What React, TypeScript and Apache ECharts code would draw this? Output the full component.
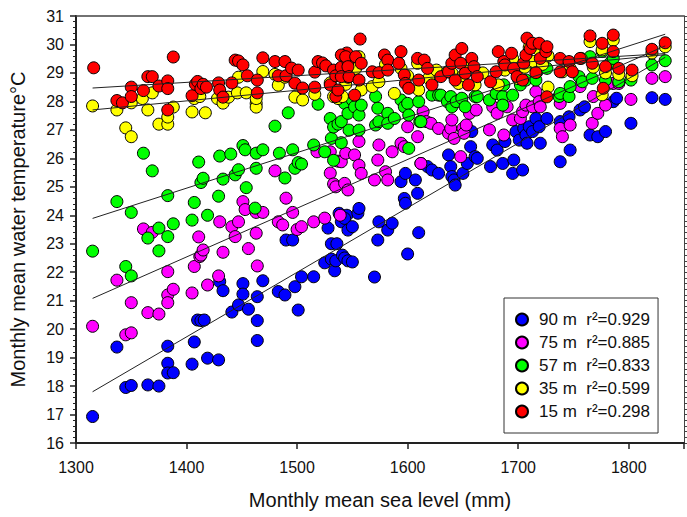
import React, { useEffect, useRef } from "react";
import * as echarts from "echarts";

const seriesNames = ["90 m  r²=0.929", "75 m  r²=0.885", "57 m  r²=0.833", "35 m  r²=0.599", "15 m  r²=0.298"];
const seriesColors = ["#0000ff", "#ff00ff", "#00ff00", "#ffff00", "#ff0000"];

const xTicks = [1300, 1400, 1500, 1600, 1700, 1800];
const yTicks = [16, 17, 18, 19, 20, 21, 22, 23, 24, 25, 26, 27, 28, 29, 30, 31];

const blue90: [number, number][] = [
  [1315, 16.93], [1337, 19.37], [1345, 17.95], [1350, 18.02], [1365, 18.04], [1375, 18.0], [1383, 19.4], [1383, 18.8],
  [1383, 18.46], [1388, 18.47], [1405, 18.77], [1407, 19.55], [1410, 20.32], [1413, 20.3], [1416, 20.32], [1419, 18.98],
  [1429, 18.92], [1430, 21.67], [1433, 21.35], [1441, 20.6], [1447, 20.85], [1451, 21.6], [1451, 21.23], [1456, 20.7],
  [1464, 21.14], [1464, 20.3], [1464, 19.6], [1469, 21.7], [1483, 21.32], [1489, 21.2], [1490, 23.13], [1496, 23.13],
  [1498, 21.49], [1501, 20.67], [1504, 21.84], [1515, 21.84], [1525, 22.33], [1528, 23.55], [1531, 22.46], [1531, 23.0],
  [1534, 22.05], [1535, 22.4], [1536, 23.0], [1540, 23.77], [1541, 22.6], [1543, 22.5], [1545, 24.0], [1546, 22.4],
  [1550, 22.36], [1570, 21.83], [1600, 22.64], [1610, 23.39],
  [1538, 24.07], [1543, 23.89], [1546, 23.48], [1550, 23.6], [1555, 24.07], [1556, 24.24], [1573, 23.13], [1574, 23.77],
  [1582, 23.48], [1586, 23.72], [1594, 25.18], [1598, 25.47], [1607, 25.24], [1597, 24.59], [1598, 24.42], [1609, 24.77],
  [1612, 25.82], [1618, 25.71], [1622, 25.59], [1628, 25.47], [1637, 26.12], [1639, 25.71], [1640, 25.36], [1642, 25.24],
  [1643, 25.06], [1650, 25.47], [1654, 25.82], [1657, 26.41], [1658, 26.94], [1661, 26.06], [1663, 26.0], [1675, 25.71],
  [1677, 26.47], [1681, 26.29], [1686, 25.82], [1688, 26.59], [1695, 25.47], [1696, 25.94], [1698, 26.94], [1701, 26.64],
  [1704, 25.59], [1705, 27.05], [1707, 26.82], [1708, 26.53], [1710, 27.11], [1713, 26.94], [1716, 27.4], [1719, 27.11],
  [1720, 26.53], [1726, 27.4], [1738, 25.88], [1738, 27.29], [1746, 27.46], [1747, 26.29], [1756, 27.7], [1760, 27.81],
  [1765, 26.82], [1772, 26.76], [1779, 26.94], [1786, 27.99], [1789, 28.11], [1802, 27.23], [1821, 28.13], [1833, 28.07],
];

const magenta75: [number, number][] = [
  [1315, 20.1], [1337, 21.72], [1345, 19.8], [1350, 19.87], [1350, 20.93], [1361, 23.52], [1365, 20.58], [1369, 23.4],
  [1375, 20.53], [1383, 22.02], [1383, 21.2], [1383, 20.93], [1388, 21.4], [1405, 21.27], [1407, 22.2], [1411, 23.24],
  [1412, 22.55], [1413, 22.6], [1415, 22.78], [1419, 21.55], [1429, 21.87], [1430, 23.77], [1433, 22.7], [1441, 23.6],
  [1444, 23.25], [1447, 23.77], [1451, 24.48], [1453, 24.2], [1456, 22.83], [1463, 23.37], [1463, 24.1], [1464, 22.22],
  [1469, 24.1], [1480, 25.56], [1483, 23.77], [1487, 23.66], [1490, 24.6], [1496, 24.1], [1500, 23.5], [1504, 23.6],
  [1515, 23.77], [1518, 26.23], [1525, 23.9], [1530, 26.23], [1530, 25.48], [1533, 25.1], [1535, 25.0], [1537, 25.9],
  [1539, 24.0],
  [1540, 25.88], [1544, 26.18], [1552, 26.12], [1556, 26.59], [1556, 25.76], [1558, 25.47], [1543, 25.12], [1546, 24.89],
  [1570, 25.24], [1574, 26.47], [1573, 25.94], [1580, 25.53], [1582, 25.24], [1586, 26.23], [1594, 26.53], [1597, 26.41],
  [1600, 27.11], [1609, 26.76], [1612, 25.82], [1614, 27.64], [1617, 27.29], [1621, 27.23], [1628, 27.05], [1637, 26.88],
  [1639, 27.05], [1640, 27.35], [1642, 26.7], [1648, 26.06], [1650, 27.05], [1651, 26.88], [1653, 27.17], [1656, 27.58],
  [1662, 27.7], [1674, 27.0], [1677, 27.81], [1681, 27.58], [1687, 26.82], [1690, 27.81], [1695, 27.35], [1702, 27.4],
  [1704, 27.64], [1707, 27.87], [1713, 27.81], [1716, 28.34], [1719, 27.99], [1720, 27.81], [1738, 27.93], [1738, 27.05],
  [1740, 26.76], [1747, 27.17], [1756, 28.52], [1767, 27.23], [1768, 28.17], [1772, 27.58], [1779, 27.87], [1786, 28.63],
  [1791, 28.63], [1802, 28.07], [1821, 28.81], [1833, 28.87],
];

const green57: [number, number][] = [
  [1315, 22.74], [1337, 24.48], [1345, 22.2], [1350, 21.87], [1350, 24.1], [1361, 26.18], [1365, 23.2], [1369, 25.56],
  [1375, 23.55], [1375, 22.75], [1383, 24.69], [1383, 23.25], [1388, 23.7], [1405, 23.83], [1407, 24.45], [1411, 25.87],
  [1413, 25.15], [1415, 25.3], [1419, 24.0], [1429, 24.67], [1430, 26.08], [1433, 25.27], [1440, 26.15], [1444, 25.42],
  [1447, 25.6], [1451, 26.45], [1453, 26.3], [1454, 24.97], [1462, 24.25], [1463, 26.18], [1463, 25.65], [1469, 26.3],
  [1480, 27.13], [1484, 26.18], [1489, 25.31], [1492, 27.6], [1496, 26.3], [1498, 25.65], [1501, 25.85], [1504, 25.8],
  [1515, 26.47], [1519, 27.9], [1525, 26.23], [1530, 27.4], [1531, 26.7], [1533, 27.1], [1533, 25.93], [1537, 27.2],
  [1540, 26.55],
  [1540, 27.29], [1543, 27.93], [1546, 27.58], [1547, 26.99], [1550, 28.05], [1552, 27.81], [1556, 27.52], [1556, 26.99],
  [1558, 27.87], [1571, 28.17], [1573, 27.76], [1571, 27.17], [1574, 27.29], [1582, 27.58], [1582, 27.23], [1588, 27.4],
  [1594, 28.05], [1597, 27.81], [1600, 27.93], [1601, 27.52], [1601, 26.35], [1610, 27.99], [1611, 27.29], [1612, 27.29],
  [1622, 28.22], [1628, 28.22], [1630, 28.22], [1636, 27.99], [1639, 28.17], [1640, 27.81], [1644, 27.99], [1649, 28.11],
  [1652, 27.81], [1661, 28.17], [1663, 28.17], [1674, 28.05], [1680, 28.28], [1686, 28.17], [1686, 27.87], [1687, 28.58],
  [1695, 28.22], [1702, 28.58], [1707, 28.75], [1716, 28.75], [1717, 29.04], [1726, 29.16], [1737, 28.17], [1738, 28.28],
  [1746, 28.17], [1747, 28.52], [1755, 28.87], [1758, 28.69], [1765, 29.57], [1767, 28.81], [1776, 29.75], [1779, 28.75],
  [1783, 29.34], [1786, 29.51], [1791, 28.69], [1802, 28.75], [1821, 29.28], [1833, 29.43],
];

const yellow35: [number, number][] = [
  [1315, 27.84], [1337, 27.7], [1345, 27.07], [1350, 26.76], [1350, 27.95], [1360, 28.1], [1365, 27.7], [1369, 28.3],
  [1375, 27.2], [1383, 27.2], [1383, 27.45], [1388, 27.8], [1405, 27.63], [1407, 28.1], [1412, 28.17], [1417, 27.6],
  [1428, 28.1], [1433, 27.94], [1438, 28.15], [1446, 28.3], [1447, 28.85], [1454, 28.3], [1463, 27.93], [1463, 27.8],
  [1463, 28.1], [1469, 29.05], [1480, 28.95], [1483, 28.57], [1489, 28.85], [1498, 28.15], [1505, 28.05], [1516, 28.25],
  [1530, 28.65], [1533, 28.17], [1537, 28.1],
  [1541, 28.17], [1544, 28.6], [1553, 29.16], [1556, 29.57], [1558, 28.4], [1568, 28.52], [1574, 28.69], [1580, 29.3],
  [1588, 28.28], [1594, 29.16], [1600, 28.9], [1609, 29.34], [1610, 28.4], [1619, 28.81], [1626, 29.1], [1636, 29.04],
  [1640, 29.0], [1646, 28.63], [1650, 28.9], [1655, 29.22], [1661, 28.58], [1668, 29.0], [1682, 28.58], [1688, 29.1],
  [1695, 29.5], [1700, 28.8], [1706, 29.2], [1710, 29.9], [1714, 29.4], [1719, 29.8], [1722, 29.3], [1727, 29.6],
  [1727, 28.5], [1740, 29.04], [1747, 29.16], [1757, 29.51], [1765, 30.1], [1768, 29.2], [1776, 29.81], [1776, 28.23],
  [1779, 29.0], [1786, 30.15], [1791, 28.95], [1803, 28.9], [1821, 29.7], [1833, 29.92],
];

const red15: [number, number][] = [
  [1316, 29.18], [1337, 28.03], [1342, 27.95], [1350, 28.5], [1350, 28.17], [1361, 28.38], [1365, 28.87], [1369, 28.87],
  [1375, 28.54], [1383, 28.72], [1383, 28.45], [1383, 27.7], [1388, 29.56], [1405, 28.2], [1408, 28.6], [1410, 28.7],
  [1413, 28.45], [1415, 28.6], [1418, 28.5], [1429, 28.65], [1430, 28.4], [1433, 28.15], [1441, 28.65], [1444, 29.45],
  [1447, 29.42], [1451, 29.28], [1455, 28.9], [1464, 28.75], [1464, 28.3], [1469, 29.53], [1480, 29.4], [1483, 28.9],
  [1489, 29.4], [1490, 28.9], [1495, 29.17], [1498, 28.64], [1501, 29.1], [1505, 28.47], [1516, 29.03], [1516, 28.5],
  [1519, 29.4], [1523, 29.35], [1526, 29.25], [1530, 28.58], [1533, 29.1], [1535, 28.9], [1535, 28.17], [1537, 28.4],
  [1540, 29.2], [1545, 29.7], [1546, 29.4], [1546, 28.85],
  [1540, 29.63], [1544, 29.57], [1546, 29.22], [1553, 29.57], [1558, 29.34], [1557, 30.19], [1540, 28.87], [1547, 28.87],
  [1556, 28.75], [1552, 28.22], [1568, 29.04], [1574, 29.01], [1579, 29.63], [1582, 29.45], [1582, 29.1], [1592, 29.34],
  [1594, 29.75], [1597, 28.93], [1598, 28.63], [1601, 28.46], [1609, 29.51], [1610, 28.75], [1615, 29.45], [1618, 29.16],
  [1622, 28.58], [1630, 28.87], [1637, 29.04], [1640, 29.34], [1643, 29.63], [1643, 28.75], [1648, 29.34], [1649, 29.86],
  [1652, 28.99], [1655, 28.58], [1658, 29.51], [1660, 29.22], [1663, 28.87], [1675, 28.69], [1680, 29.04], [1682, 29.75],
  [1687, 29.4], [1688, 29.28], [1694, 29.69], [1696, 29.16], [1699, 28.87], [1704, 28.75], [1705, 29.34], [1707, 29.63],
  [1708, 30.22], [1711, 29.86], [1713, 30.04], [1716, 29.01], [1719, 30.04], [1720, 29.51], [1725, 29.75], [1726, 29.92],
  [1726, 28.16], [1738, 29.51], [1738, 29.04], [1746, 29.4], [1749, 29.04], [1756, 29.51], [1767, 29.34], [1765, 30.3],
  [1776, 30.04], [1777, 28.46], [1779, 29.22], [1786, 30.33], [1786, 29.75], [1791, 29.16], [1803, 29.1], [1821, 29.83],
  [1833, 30.06],
];

const fit90: [number, number][] = [[1315, 17.8], [1833, 29.55]];
const fit75: [number, number][] = [[1315, 21.08], [1833, 29.95]];
const fit57: [number, number][] = [[1315, 23.89], [1833, 30.36]];
const fit35: [number, number][] = [[1315, 27.7], [1833, 29.64]];
const fit15: [number, number][] = [[1315, 28.47], [1833, 29.68]];

const scatterData = [blue90, magenta75, green57, yellow35, red15];
const fitData = [fit90, fit75, fit57, fit35, fit15];

const FONT = "'Liberation Sans', Arial, sans-serif";

export default function App() {
  const ref = useRef<HTMLDivElement>(null);
  useEffect(() => {
    if (!ref.current) return;
    const chart = echarts.init(ref.current, undefined, { renderer: "svg" });
    const scatterSeries = scatterData.map((d, i) => ({
      name: seriesNames[i],
      type: "scatter",
      data: d,
      symbol: "circle",
      symbolSize: 12,
      itemStyle: { color: seriesColors[i], borderColor: "#000", borderWidth: 1, opacity: 1 },
      z: 2 + i,
    }));
    const lineSeries = fitData.map((d) => ({
      type: "line",
      data: d,
      symbol: "none",
      silent: true,
      lineStyle: { color: "#222", width: 1 },
      z: 20,
    }));
    chart.setOption({
      animation: false,
      backgroundColor: "#fff",
      textStyle: { fontFamily: FONT },
      grid: { left: 75, right: 3, top: 16, bottom: 74 },
      legend: {
        data: seriesNames,
        orient: "vertical",
        left: 504,
        top: 298,
        padding: [13, 8, 13, 11],
        itemGap: 6,
        itemWidth: 24,
        itemHeight: 12,
        borderColor: "#333",
        borderWidth: 1,
        backgroundColor: "#fff",
        textStyle: { fontSize: 17, lineHeight: 15, color: "#111", fontFamily: FONT },
      },
      xAxis: [
        {
          type: "value",
          min: 1300,
          max: 1850,
          interval: 100,
          position: "bottom",
          name: "Monthly mean sea level (mm)",
          nameLocation: "middle",
          nameGap: 47,
          nameTextStyle: { fontSize: 20, color: "#111", fontFamily: FONT },
          axisLine: { show: true, onZero: false, lineStyle: { color: "#222", width: 2 } },
          axisTick: { show: true, inside: false, length: 6, lineStyle: { color: "#222", width: 1.5 } },
          axisLabel: {
            fontSize: 16,
            color: "#111",
            margin: 16,
            formatter: (v: number) => (xTicks.includes(v) ? String(v) : ""),
          },
          splitLine: { show: false },
        },
        {
          type: "value",
          min: 1300,
          max: 1850,
          interval: 100,
          position: "top",
          axisLine: { show: true, onZero: false, lineStyle: { color: "#444", width: 1.5 } },
          axisTick: { show: false },
          axisLabel: { show: false },
          splitLine: { show: false },
        },
      ],
      yAxis: [
        {
          type: "value",
          min: 16,
          max: 31,
          interval: 1,
          position: "left",
          name: "Monthly mean water temperature°C",
          nameLocation: "middle",
          nameGap: 48,
          nameTextStyle: { fontSize: 20, color: "#111", fontFamily: FONT },
          axisLine: { show: true, onZero: false, lineStyle: { color: "#222", width: 2 } },
          axisTick: { show: true, inside: false, length: 6, lineStyle: { color: "#222", width: 1.5 } },
          minorTick: { show: true, splitNumber: 5, length: 3, lineStyle: { color: "#222", width: 1 } },
          axisLabel: {
            fontSize: 16,
            color: "#111",
            margin: 12,
            formatter: (v: number) => (yTicks.includes(v) ? String(v) : ""),
          },
          splitLine: { show: false },
          minorSplitLine: { show: false },
        },
        {
          type: "value",
          min: 16,
          max: 31,
          interval: 1,
          position: "right",
          axisLine: { show: true, onZero: false, lineStyle: { color: "#444", width: 1 } },
          axisTick: { show: true, inside: false, length: 4, lineStyle: { color: "#444", width: 1 } },
          minorTick: { show: true, splitNumber: 5, length: 3, lineStyle: { color: "#444", width: 1 } },
          axisLabel: { show: false },
          splitLine: { show: false },
          minorSplitLine: { show: false },
        },
      ],
      series: [...scatterSeries, ...lineSeries],
    });
    return () => chart.dispose();
  }, []);
  return (
    <div
      ref={ref}
      style={{ position: "fixed", left: 0, top: 0, width: 687, height: 517, background: "#fff" }}
    />
  );
}
